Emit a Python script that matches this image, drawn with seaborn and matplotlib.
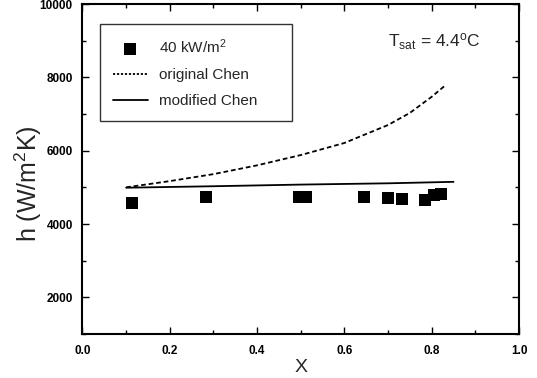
import matplotlib
matplotlib.use("Agg")
import matplotlib.pyplot as plt
from matplotlib.ticker import MultipleLocator, FormatStrFormatter
import pandas as pd
import seaborn as sns

# Measured heat transfer coefficient, 40 kW/m^2
quality_meas = [0.114, 0.282, 0.497, 0.513, 0.646, 0.701, 0.732, 0.785, 0.805, 0.821]
h_meas = [4580, 4730, 4730, 4730, 4745, 4710, 4680, 4655, 4785, 4810]

# Original Chen correlation
quality_chen = [0.10, 0.20, 0.30, 0.40, 0.50, 0.60, 0.70, 0.75, 0.80, 0.83]
h_chen = [5000, 5170, 5360, 5600, 5880, 6210, 6700, 7030, 7470, 7770]

# Modified Chen correlation
quality_mod = [0.10, 0.30, 0.50, 0.70, 0.85]
h_mod = [4990, 5030, 5075, 5110, 5150]

sns.set_theme(style="ticks")
plt.rcParams["font.family"] = ["Liberation Sans", "DejaVu Sans"]
plt.rcParams["mathtext.fontset"] = "custom"
plt.rcParams["mathtext.rm"] = "Liberation Sans"
plt.rcParams["mathtext.it"] = "Liberation Sans"

fig = plt.figure(figsize=(5.37, 3.78), dpi=100)
ax = fig.add_axes([0.1536, 0.1164, 0.8129, 0.8730])

meas = pd.DataFrame({"X": quality_meas, "h": h_meas})
chen = pd.DataFrame({"X": quality_chen, "h": h_chen})
mod = pd.DataFrame({"X": quality_mod, "h": h_mod})

sns.scatterplot(data=meas, x="X", y="h", ax=ax, marker="s", s=80,
                color="black", edgecolor="black", linewidth=0,
                label="40 kW/m$^2$", zorder=3)
sns.lineplot(data=chen, x="X", y="h", ax=ax, color="black", lw=1.3,
             linestyle=(0, (2.6, 1.6)), label="original Chen", sort=False)
sns.lineplot(data=mod, x="X", y="h", ax=ax, color="black", lw=1.3,
             label="modified Chen", sort=False)

ax.set_xlim(0.0, 1.0)
ax.set_ylim(1000, 10000)
ax.xaxis.set_major_locator(MultipleLocator(0.2))
ax.xaxis.set_minor_locator(MultipleLocator(0.1))
ax.xaxis.set_major_formatter(FormatStrFormatter("%.1f"))
ax.set_yticks([2000, 4000, 6000, 8000, 10000])
ax.yaxis.set_minor_locator(MultipleLocator(1000))

ax.tick_params(which="both", direction="in", top=True, right=True,
               colors="black", labelsize=8.5, width=1.0)
ax.tick_params(which="major", length=5)
ax.tick_params(axis="x", which="major", pad=8)
ax.tick_params(axis="y", which="major", pad=7)
ax.tick_params(which="minor", length=3)
for lbl in ax.get_xticklabels() + ax.get_yticklabels():
    lbl.set_fontweight("bold")
for sp in ax.spines.values():
    sp.set_linewidth(1.5)
    sp.set_color("black")
    sp.set_visible(True)

ax.set_xlabel("X", fontsize=14, labelpad=1)
ax.set_ylabel("h (W/m$^2$K)", fontsize=18)
ax.yaxis.set_label_coords(-0.088, 0.455)

ax.text(0.70, 0.885, "T$_{sat}$ = 4.4$^o$C", transform=ax.transAxes,
        fontsize=12.5, ha="left", va="center")

leg = ax.legend(loc="upper left", bbox_to_anchor=(0.040, 0.652, 0.439, 0.287),
                mode="expand", frameon=True, fancybox=False, edgecolor="black",
                fontsize=11, handlelength=2.3, handletextpad=0.7,
                borderpad=0.85, labelspacing=0.8, borderaxespad=0)
leg.get_frame().set_linewidth(1.0)
# finer dotted sample for the original correlation in the key
for line in leg.get_lines():
    if line.get_label() == "original Chen":
        line.set_linestyle((0, (1.2, 1.0)))

fig.savefig("out.png", dpi=100)
